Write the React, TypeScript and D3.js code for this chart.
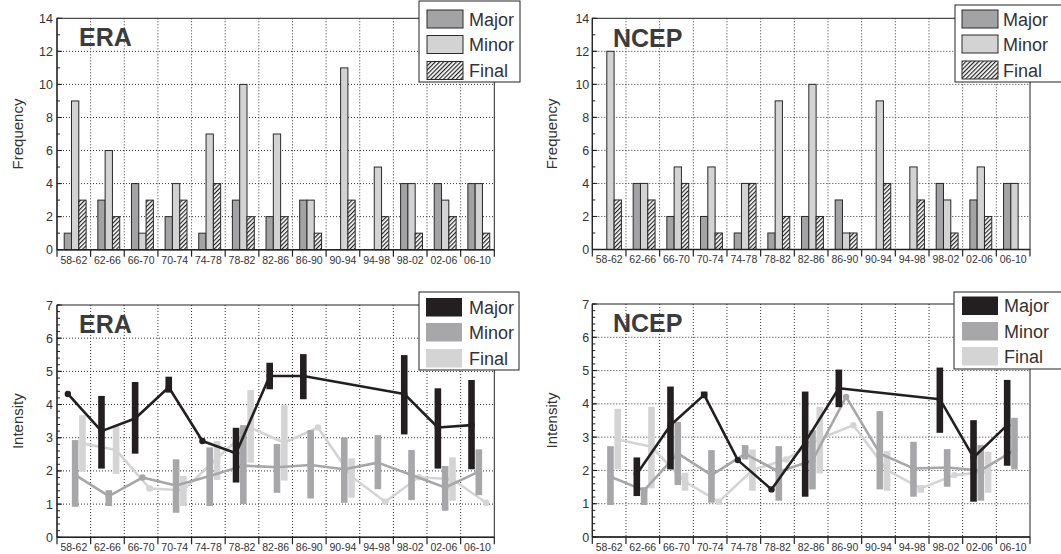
import React from 'react';
import * as d3 from 'd3';

const categories = ['58-62', '62-66', '66-70', '70-74', '74-78', '78-82', '82-86', '86-90', '90-94', '94-98', '98-02', '02-06', '06-10'];
const seriesNames = ['Major', 'Minor', 'Final'];

// Frequency (counts)
const eraFreqMajor = [1, 3, 4, 2, 1, 3, 2, 3, 0, 0, 4, 4, 4];
const eraFreqMinor = [9, 6, 1, 4, 7, 10, 7, 3, 11, 5, 4, 3, 4];
const eraFreqFinal = [3, 2, 3, 3, 4, 2, 2, 1, 3, 2, 1, 2, 1];
const ncepFreqMajor = [0, 4, 2, 2, 1, 1, 2, 3, 0, 0, 4, 3, 4];
const ncepFreqMinor = [12, 4, 5, 5, 4, 9, 10, 1, 9, 5, 3, 5, 4];
const ncepFreqFinal = [3, 3, 4, 1, 4, 2, 2, 1, 4, 3, 1, 2, 0];

const freqTicks = [0, 2, 4, 6, 8, 10, 12, 14];
const intTicks = [0, 1, 2, 3, 4, 5, 6, 7];

// Intensity: mean, low, high (null = no event)
const eraIntMajorMean = [4.32, 3.2, 3.58, 4.52, 2.9, 2.53, 4.86, 4.86, null, null, 4.32, 3.31, 3.38];
const eraIntMajorLow = [4.32, 2.07, 2.52, 4.36, 2.9, 1.65, 4.46, 4.16, null, null, 3.1, 2.07, 2.05];
const eraIntMajorHigh = [4.32, 4.26, 4.68, 4.84, 2.9, 3.3, 5.26, 5.52, null, null, 5.49, 4.49, 4.74];

const eraIntMinorMean = [1.88, 1.24, 1.8, 1.56, 1.85, 2.16, 2.11, 2.18, 2.05, 2.25, 1.88, 1.5, 1.98];
const eraIntMinorLow = [0.92, 0.94, 1.8, 0.74, 0.94, 1.0, 1.34, 1.17, 1.04, 1.45, 1.12, 0.8, 1.27];
const eraIntMinorHigh = [2.93, 1.42, 1.8, 2.35, 2.71, 3.38, 2.81, 3.23, 3.01, 3.08, 2.63, 2.15, 2.65];

const eraIntFinalMean = [2.83, 2.63, 1.47, 1.42, 2.38, 3.3, 2.85, 3.31, 1.83, 1.07, 1.81, 1.75, 1.04];
const eraIntFinalLow = [1.98, 1.91, 1.41, 0.94, 1.73, 2.25, 1.71, 3.31, 1.19, 1.03, 1.81, 1.1, 1.04];
const eraIntFinalHigh = [3.68, 3.35, 1.53, 1.85, 2.9, 4.44, 3.98, 3.31, 2.38, 1.11, 1.81, 2.41, 1.04];

const ncepIntMajorMean = [null, 1.89, 3.36, 4.27, 2.31, 1.43, 2.85, 4.47, null, null, 4.14, 2.39, 3.36];
const ncepIntMajorLow = [null, 1.23, 2.03, 4.17, 2.31, 1.43, 1.21, 3.9, null, null, 3.13, 1.06, 2.14];
const ncepIntMajorHigh = [null, 2.39, 4.52, 4.37, 2.31, 1.43, 4.37, 5.03, null, null, 5.09, 3.51, 4.72];

const ncepIntMinorMean = [1.81, 1.4, 2.51, 1.86, 2.5, 1.96, 2.3, 4.21, 2.51, 2.06, 2.09, 2.0, 2.61];
const ncepIntMinorLow = [0.96, 0.96, 1.56, 1.03, 2.33, 1.09, 1.43, 4.21, 1.43, 1.21, 1.51, 1.09, 2.03];
const ncepIntMinorHigh = [2.73, 1.49, 3.46, 2.61, 2.76, 2.73, 3.21, 4.21, 3.78, 2.86, 2.64, 2.76, 3.58];

const ncepIntFinalMean = [2.93, 2.71, 1.66, 1.06, 2.01, 2.33, 2.95, 3.36, 2.01, 1.46, 1.86, 1.96, null];
const ncepIntFinalLow = [2.03, 1.46, 1.39, 1.06, 1.39, 2.28, 1.91, 3.36, 1.39, 1.33, 1.86, 1.33, null];
const ncepIntFinalHigh = [3.85, 3.91, 1.93, 1.06, 2.63, 2.38, 3.91, 3.36, 2.58, 1.56, 1.86, 2.56, null];

const FONT = '"Liberation Sans", Arial, Helvetica, sans-serif';
const freqFills = ['#a3a3a5', '#d3d3d3', 'url(#hatch)'];
const intColors = ['#231f20', '#a7a7a9', '#d4d4d4'];

type Box = { x0: number; x1: number; y0: number; y1: number };

function makeScales(box: Box, yMax: number) {
  const x = d3.scaleBand<string>().domain(categories).range([box.x0, box.x1]).padding(0);
  const y = d3.scaleLinear().domain([0, yMax]).range([box.y0, box.y1]);
  const inner = d3.scaleBand<string>().domain(seriesNames).range([7.2, 29.1]).padding(0);
  return { x, y, inner };
}

function AxesBack({ box, yMax, ticks }: { box: Box; yMax: number; ticks: number[] }) {
  const { x, y } = makeScales(box, yMax);
  return (
    <g>
      {ticks.filter(t => t > 0 && t < yMax).map(t => (
        <line key={'h' + t} x1={box.x0} x2={box.x1} y1={y(t)} y2={y(t)} stroke="#333" strokeWidth={1} strokeDasharray="1,2" />
      ))}
      {categories.slice(1).map(c => (
        <line key={'v' + c} x1={x(c)!} x2={x(c)!} y1={box.y1} y2={box.y0} stroke="#333" strokeWidth={1} strokeDasharray="1,2" />
      ))}
    </g>
  );
}

function AxesFront({ box, yMax, ticks, minorStep, yLabel, labelX, title, titleX, titleY, labelOffset }:
  { box: Box; yMax: number; ticks: number[]; minorStep: number; yLabel: string; labelX: number; title: string; titleX: number; titleY: number; labelOffset: number }) {
  const { x, y } = makeScales(box, yMax);
  const minor = d3.range(0, yMax + 1e-9, minorStep);
  const bw = x.bandwidth();
  const bounds = d3.range(0, categories.length + 1).map(i => box.x0 + i * bw);
  return (
    <g>
      <rect x={box.x0} y={box.y1} width={box.x1 - box.x0} height={box.y0 - box.y1} fill="none" stroke="#222" strokeWidth={1} />
      <line x1={box.x0} x2={box.x1} y1={box.y0} y2={box.y0} stroke="#222" strokeWidth={1.4} />
      <line x1={box.x0} x2={box.x0} y1={box.y0} y2={box.y1} stroke="#222" strokeWidth={1.2} />
      {minor.map((t, i) => (
        <line key={'m' + i} x1={box.x0} x2={box.x0 + 3} y1={y(t)} y2={y(t)} stroke="#222" strokeWidth={1} />
      ))}
      {ticks.map(t => (
        <g key={'t' + t}>
          <line x1={box.x0} x2={box.x0 + 5} y1={y(t)} y2={y(t)} stroke="#222" strokeWidth={1} />
          <text x={box.x0 - labelOffset} y={y(t)} dy="0.36em" textAnchor="end" fontSize={12.5} fill="#333" fontFamily={FONT}>{t}</text>
        </g>
      ))}
      {bounds.map((bx, i) => (
        <line key={'xb' + i} x1={bx} x2={bx} y1={box.y0} y2={box.y0 + 7} stroke="#222" strokeWidth={1.2} />
      ))}
      {categories.map(c => (
        <text key={'xl' + c} x={x(c)! + bw / 2} y={box.y0 + 13.8} textAnchor="middle" fontSize={10.5} fill="#333" fontFamily={FONT}>{c}</text>
      ))}
      <text transform={`translate(${labelX},${(box.y0 + box.y1) / 2 + 0}) rotate(-90)`} textAnchor="middle" fontSize={15} fill="#333" fontFamily={FONT}>{yLabel}</text>
      <text x={titleX} y={titleY} fontSize={25} fontWeight="bold" fill="#3c3c3c" fontFamily={FONT}>{title}</text>
    </g>
  );
}

function FreqBars({ box, data }: { box: Box; data: number[][] }) {
  const { x, y, inner } = makeScales(box, 14);
  return (
    <g>
      {data.map((vals, k) => vals.map((v, i) => v > 0 ? (
        <rect key={k + '-' + i} x={x(categories[i])! + inner(seriesNames[k])!} y={y(v)} width={inner.bandwidth()} height={y(0) - y(v)}
          fill={freqFills[k]} stroke="#2a2a2a" strokeWidth={1} />
      ) : null))}
    </g>
  );
}

type IntSeries = { mean: (number | null)[]; low: (number | null)[]; high: (number | null)[] };

function IntMarks({ box, series }: { box: Box; series: IntSeries[] }) {
  const { x, y, inner } = makeScales(box, 7);
  const order = [2, 1, 0];
  return (
    <g>
      {order.map(k => {
        const s = series[k];
        const cx = (i: number) => x(categories[i])! + inner(seriesNames[k])! + inner.bandwidth() / 2;
        const pts = s.mean.map((m, i) => (m == null ? null : [cx(i), y(m)] as [number, number])).filter(p => p != null) as [number, number][];
        const path = d3.line()(pts) || '';
        return (
          <g key={'s' + k}>
            {s.mean.map((m, i) => {
              const lo = s.low[i], hi = s.high[i];
              if (m == null || lo == null || hi == null || hi - lo < 0.01) return null;
              return <rect key={'r' + i} x={cx(i) - 3.3} y={y(hi)} width={6.6} height={y(lo) - y(hi)} fill={intColors[k]} />;
            })}
            <path d={path} fill="none" stroke={intColors[k]} strokeWidth={2.6} strokeLinejoin="round" />
            {pts.map((p, i) => <circle key={'c' + i} cx={p[0]} cy={p[1]} r={3.2} fill={intColors[k]} />)}
          </g>
        );
      })}
    </g>
  );
}

function Legend({ bx, by, bw, bh, swX, txtX, rows, kind }: { bx: number; by: number; bw: number; bh: number; swX: number; txtX: number; rows: number[]; kind: 'freq' | 'int' }) {
  return (
    <g>
      <rect x={bx} y={by} width={bw} height={bh} fill="#fff" stroke="#222" strokeWidth={1} />
      {seriesNames.map((n, k) => (
        <g key={n}>
          {kind === 'freq'
            ? <rect x={swX} y={rows[k]} width={36} height={18} fill={freqFills[k]} stroke="#2a2a2a" strokeWidth={1} />
            : <rect x={swX} y={rows[k]} width={36} height={18.5} fill={intColors[k]} />}
          <text x={txtX} y={rows[k] + 15.5} fontSize={18} fill="#333" fontFamily={FONT}>{n}</text>
        </g>
      ))}
    </g>
  );
}

const boxFreqERA: Box = { x0: 57, x1: 494.3, y0: 249.7, y1: 18.3 };
const boxFreqNCEP: Box = { x0: 592.3, x1: 1030, y0: 249.5, y1: 18.3 };
const boxIntERA: Box = { x0: 57, x1: 494.3, y0: 537.3, y1: 305 };
const boxIntNCEP: Box = { x0: 592.3, x1: 1030, y0: 537, y1: 304 };

export default function App() {
  const eraInt: IntSeries[] = [
    { mean: eraIntMajorMean, low: eraIntMajorLow, high: eraIntMajorHigh },
    { mean: eraIntMinorMean, low: eraIntMinorLow, high: eraIntMinorHigh },
    { mean: eraIntFinalMean, low: eraIntFinalLow, high: eraIntFinalHigh },
  ];
  const ncepInt: IntSeries[] = [
    { mean: ncepIntMajorMean, low: ncepIntMajorLow, high: ncepIntMajorHigh },
    { mean: ncepIntMinorMean, low: ncepIntMinorLow, high: ncepIntMinorHigh },
    { mean: ncepIntFinalMean, low: ncepIntFinalLow, high: ncepIntFinalHigh },
  ];
  return (
    <svg width={1061} height={554} style={{ position: 'absolute', left: 0, top: 0, background: '#fff' }}>
      <defs>
        <pattern id="hatch" patternUnits="userSpaceOnUse" width={3} height={3} patternTransform="rotate(45)">
          <rect x={0} y={0} width={3} height={3} fill="#fff" />
          <line x1={0.6} y1={0} x2={0.6} y2={3} stroke="#222" strokeWidth={1.2} />
        </pattern>
      </defs>

      {/* ERA frequency */}
      <AxesBack box={boxFreqERA} yMax={14} ticks={freqTicks} />
      <FreqBars box={boxFreqERA} data={[eraFreqMajor, eraFreqMinor, eraFreqFinal]} />
      <AxesFront box={boxFreqERA} yMax={14} ticks={freqTicks} minorStep={1} yLabel="Frequency" labelX={23} title="ERA" titleX={79} titleY={46} labelOffset={4} />
      <Legend bx={419} by={1} bw={101} bh={81} swX={427} txtX={469} rows={[10, 35.5, 61.5]} kind="freq" />

      {/* NCEP frequency */}
      <AxesBack box={boxFreqNCEP} yMax={14} ticks={freqTicks} />
      <FreqBars box={boxFreqNCEP} data={[ncepFreqMajor, ncepFreqMinor, ncepFreqFinal]} />
      <AxesFront box={boxFreqNCEP} yMax={14} ticks={freqTicks} minorStep={1} yLabel="Frequency" labelX={557} title="NCEP" titleX={613} titleY={46.5} labelOffset={3} />
      <Legend bx={955} by={5} bw={115} bh={77} swX={962} txtX={1003} rows={[10, 35, 61]} kind="freq" />

      {/* ERA intensity */}
      <AxesBack box={boxIntERA} yMax={7} ticks={intTicks} />
      <IntMarks box={boxIntERA} series={eraInt} />
      <AxesFront box={boxIntERA} yMax={7} ticks={intTicks} minorStep={0.2} yLabel="Intensity" labelX={23} title="ERA" titleX={79} titleY={333} labelOffset={4} />
      <Legend bx={419} by={292} bw={100} bh={78} swX={426} txtX={469} rows={[298, 323, 349]} kind="int" />

      {/* NCEP intensity */}
      <AxesBack box={boxIntNCEP} yMax={7} ticks={intTicks} />
      <IntMarks box={boxIntNCEP} series={ncepInt} />
      <AxesFront box={boxIntNCEP} yMax={7} ticks={intTicks} minorStep={0.2} yLabel="Intensity" labelX={557} title="NCEP" titleX={613} titleY={332} labelOffset={3} />
      <Legend bx={954} by={292} bw={115} bh={77} swX={962} txtX={1004} rows={[296.5, 322, 347]} kind="int" />
    </svg>
  );
}
